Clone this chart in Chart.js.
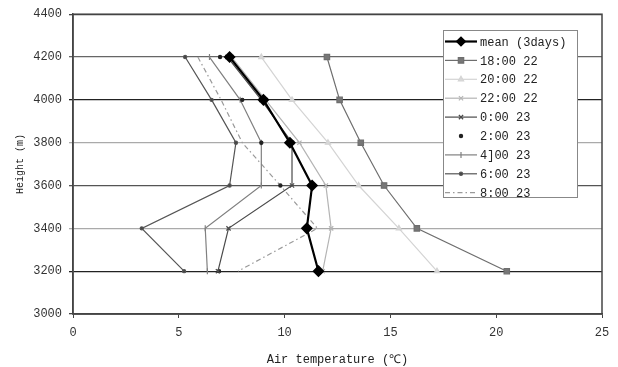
<!DOCTYPE html>
<html>
<head>
<meta charset="utf-8">
<script src="https://cdn.jsdelivr.net/npm/chart.js@4/dist/chart.umd.min.js"></script>
<style>
  html, body { margin: 0; padding: 0; background: #fff; }
  #wrap { width: 618px; height: 367px; }
</style>
</head>
<body>
<div id="wrap"><canvas id="chart"></canvas></div>
<script>
// sounding levels (m) and air temperature (deg C) at each level
var heights = [4200, 4000, 3800, 3600, 3400, 3200];
var seriesNames = ['mean (3days)', '18:00 22', '20:00 22', '22:00 22', '0:00 23', '2:00 23', '4]00 23', '6:00 23', '8:00 23'];
var tMean = [7.4, 9.0, 10.25, 11.3, 11.05, 11.6];
var t1800 = [12.0, 12.6, 13.6, 14.7, 16.25, 20.5];
var t2000 = [8.9, 10.35, 12.05, 13.5, 15.4, 17.2];
var t2200 = [7.5, 9.1, 10.7, 11.95, 12.2, 11.8];
var t0000 = [7.3, 8.9, 10.35, 10.35, 7.35, 6.85];
var t0200 = [6.95, 8.0, 8.9, 9.8, 11.0, 6.9];
var t0400 = [6.45, 7.9, 8.9, 8.9, 6.25, 6.35];
var t0600 = [5.3, 6.55, 7.7, 7.4, 3.25, 5.25];
var t0800 = [5.9, 7.0, 8.0, 9.8, 11.55, 7.8];
var xTicks = [0, 5, 10, 15, 20, 25];
var yTicks = [3000, 3200, 3400, 3600, 3800, 4000, 4200, 4400];

var MONO = '"Liberation Mono", "DejaVu Sans Mono", monospace';

function pts(temps) {
  return temps.map(function (t, i) { return { x: t, y: heights[i] }; });
}

function series(idx, temps, style) {
  var ds = {
    label: seriesNames[idx],
    data: pts(temps),
    showLine: true,
    borderWidth: 1.2,
    pointRadius: 3,
    pointHoverRadius: 3
  };
  for (var k in style) ds[k] = style[k];
  return ds;
}

var datasets = [
  series(0, tMean, { borderColor: '#000', backgroundColor: '#000', borderWidth: 2.2, pointStyle: 'rectRot', pointRadius: 4.5 }),
  series(1, t1800, { borderColor: '#6e6e6e', backgroundColor: '#777', pointStyle: 'rect', pointRadius: 3.8 }),
  series(2, t2000, { borderColor: '#d4d4d4', backgroundColor: '#d8d8d8', pointStyle: 'triangle', pointRadius: 3 }),
  series(3, t2200, { borderColor: '#b4b4b4', backgroundColor: '#b4b4b4', pointStyle: 'crossRot', pointRadius: 3 }),
  series(4, t0000, { borderColor: '#4a4a4a', backgroundColor: '#4a4a4a', pointStyle: 'crossRot', pointRadius: 3 }),
  series(5, t0200, { showLine: false, borderColor: '#222', backgroundColor: '#222', pointStyle: 'circle', pointRadius: 1.6 }),
  series(6, t0400, { borderColor: '#808080', backgroundColor: '#808080', pointStyle: 'line', pointRotation: 90, pointRadius: 3 }),
  series(7, t0600, { borderColor: '#555', backgroundColor: '#444', pointStyle: 'circle', pointRadius: 1.6 }),
  series(8, t0800, { borderColor: '#9a9a9a', backgroundColor: '#9a9a9a', borderDash: [5, 3, 1.5, 3], pointRadius: 0 })
];

// grid line shade per height level
var gridShade = { 3200: '#222', 3400: '#aaa', 3600: '#555', 3800: '#aaa', 4000: '#222', 4200: '#666' };

// box round the plot area
var plotFrame = {
  id: 'plotFrame',
  afterDatasetsDraw: function (chart) {
    var a = chart.chartArea, ctx = chart.ctx;
    ctx.save();
    ctx.strokeStyle = '#444';
    ctx.lineWidth = 1.5;
    ctx.strokeRect(a.left, a.top, a.right - a.left, a.bottom - a.top);
    ctx.restore();
  }
};

// legend box with line + marker samples
var legendBox = {
  id: 'legendBox',
  afterDraw: function (chart) {
    var ctx = chart.ctx;
    var x0 = 443, y0 = 30, w = 134, h = 167, row = 18.9;
    ctx.save();
    ctx.fillStyle = '#fff';
    ctx.fillRect(x0, y0, w, h);
    ctx.strokeStyle = '#888';
    ctx.lineWidth = 1;
    ctx.strokeRect(x0 + 0.5, y0 + 0.5, w, h);
    chart.data.datasets.forEach(function (ds, i) {
      var cy = y0 + 11.5 + i * row;
      if (ds.showLine !== false) {
        ctx.beginPath();
        ctx.strokeStyle = ds.borderColor;
        ctx.lineWidth = ds.borderWidth;
        ctx.setLineDash(ds.borderDash || []);
        ctx.moveTo(x0 + 2, cy);
        ctx.lineTo(x0 + 34, cy);
        ctx.stroke();
        ctx.setLineDash([]);
      }
      if (ds.pointRadius > 0) {
        ctx.fillStyle = ds.backgroundColor;
        ctx.strokeStyle = ds.borderColor;
        ctx.lineWidth = 1.2;
        Chart.helpers.drawPoint(ctx, {
          pointStyle: ds.pointStyle,
          rotation: ds.pointRotation || 0,
          radius: ds.pointRadius,
          borderWidth: 1.2
        }, x0 + 18, cy);
      }
      ctx.fillStyle = '#222';
      ctx.font = '12px ' + MONO;
      ctx.textBaseline = 'middle';
      ctx.textAlign = 'left';
      ctx.fillText(ds.label, x0 + 37, cy + 1);
    });
    ctx.restore();
  }
};

new Chart(document.getElementById('chart'), {
  type: 'scatter',
  data: { datasets: datasets },
  plugins: [plotFrame, legendBox],
  options: {
    responsive: true,
    maintainAspectRatio: false,
    animation: false,
    layout: { padding: { top: 13, right: 16, left: 0, bottom: 0 } },
    plugins: {
      legend: { display: false },
      tooltip: { enabled: false }
    },
    scales: {
      x: {
        type: 'linear',
        min: 0,
        max: 25,
        afterBuildTicks: function (s) { s.ticks = xTicks.map(function (v) { return { value: v }; }); },
        afterFit: function (s) { s.height = 53; },
        grid: { display: true, drawOnChartArea: false, drawTicks: true, tickLength: 4, color: '#444' },
        border: { display: true, color: '#444', width: 1.5 },
        ticks: {
          color: '#333', padding: 8, maxRotation: 0, font: { family: MONO, size: 12 },
          callback: function (v) { return String(v); }
        },
        title: {
          display: true,
          text: 'Air temperature (\u2103)',
          color: '#222',
          padding: { top: 2, bottom: 0 },
          font: { family: MONO, size: 12 }
        }
      },
      y: {
        type: 'linear',
        min: 3000,
        max: 4400,
        afterBuildTicks: function (s) { s.ticks = yTicks.map(function (v) { return { value: v }; }); },
        afterFit: function (s) { s.width = 73; },
        grid: {
          drawTicks: true,
          tickLength: 4,
          lineWidth: 1.3,
          color: function (c) { return gridShade[c.tick && c.tick.value] || '#444'; }
        },
        border: { display: true, color: '#444', width: 1.5 },
        ticks: {
          color: '#333', padding: 7, font: { family: MONO, size: 12 },
          callback: function (v) { return String(v); }
        },
        title: {
          display: true,
          text: 'Height (m)',
          color: '#222',
          padding: { top: 14, bottom: 0 },
          font: { family: MONO, size: 10 }
        }
      }
    }
  }
});
</script>
</body>
</html>
